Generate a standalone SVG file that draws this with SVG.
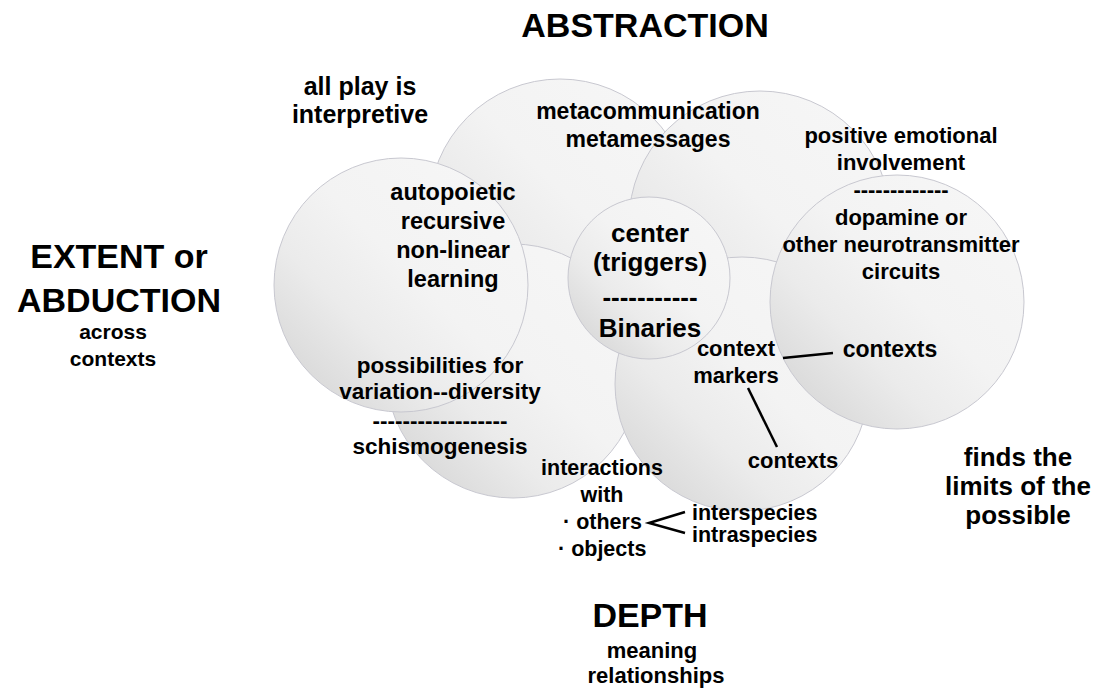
<svg xmlns="http://www.w3.org/2000/svg" width="1096" height="692" viewBox="0 0 1096 692">
<defs>
<linearGradient id="g" x1="0.1" y1="0.9" x2="0.9" y2="0.1">
<stop offset="0" stop-color="#d8d8d8"/>
<stop offset="0.3" stop-color="#ebebeb"/>
<stop offset="0.55" stop-color="#f3f3f3"/>
<stop offset="1" stop-color="#f6f6f6"/>
</linearGradient>
<style>
.c{fill:url(#g);stroke:#c8c8d0;stroke-width:1}
text{font-family:"Liberation Sans",Arial,sans-serif;font-weight:bold;fill:#000;text-anchor:middle}
.t{font-size:34px}
.s{text-anchor:start}
.ln{stroke:#000;stroke-width:2.5;fill:none;stroke-linecap:butt}
</style>
</defs>
<rect width="1096" height="692" fill="#fff"/>
<g id="circle-top"><circle class="c" cx="560" cy="210" r="131"/></g>
<g id="circle-topright"><circle class="c" cx="760" cy="222" r="131"/></g>
<g id="circle-botleft"><circle class="c" cx="513" cy="371" r="127"/></g>
<g id="circle-left"><circle class="c" cx="401" cy="285" r="127"/></g>
<g id="circle-botright"><circle class="c" cx="742" cy="384" r="127"/></g>
<g id="circle-right"><circle class="c" cx="897" cy="302" r="127"/></g>
<g id="circle-center"><circle class="c" cx="649" cy="278" r="81"/></g>

<g id="title-abstraction"><text class="t" x="645" y="37">ABSTRACTION</text></g>
<g id="title-extent">
<text class="t" x="119" y="268">EXTENT or</text>
<text class="t" x="119" y="312">ABDUCTION</text>
<text x="113" y="339" font-size="21">across</text>
<text x="113" y="366" font-size="21">contexts</text>
</g>
<g id="title-depth">
<text class="t" x="650" y="627">DEPTH</text>
<text x="652" y="658" font-size="22">meaning</text>
<text x="656" y="683" font-size="22">relationships</text>
</g>
<g id="label-finds">
<text x="1018" y="466" font-size="26">finds the</text>
<text x="1018" y="495" font-size="26">limits of the</text>
<text x="1018" y="524" font-size="26">possible</text>
</g>
<g id="label-allplay">
<text x="360" y="95" font-size="25">all play is</text>
<text x="360" y="123" font-size="25">interpretive</text>
</g>
<g id="label-meta">
<text x="648" y="119" font-size="23">metacommunication</text>
<text x="648" y="147" font-size="23">metamessages</text>
</g>
<g id="label-positive">
<text x="901" y="143" font-size="22">positive emotional</text>
<text x="901" y="170" font-size="22">involvement</text>
<text x="901" y="197" font-size="22">-------------</text>
<text x="901" y="225" font-size="22">dopamine or</text>
<text x="901" y="252" font-size="22">other neurotransmitter</text>
<text x="901" y="279" font-size="22">circuits</text>
</g>
<g id="label-autopoietic">
<text x="453" y="200" font-size="23.5">autopoietic</text>
<text x="453" y="229" font-size="23.5">recursive</text>
<text x="453" y="258" font-size="23.5">non-linear</text>
<text x="453" y="287" font-size="23.5">learning</text>
</g>
<g id="label-center">
<text x="650" y="242" font-size="26">center</text>
<text x="650" y="271" font-size="26">(triggers)</text>
<text x="650" y="306" font-size="26">-----------</text>
<text x="650" y="337" font-size="26">Binaries</text>
</g>
<g id="label-possibilities">
<text x="440" y="373" font-size="22.5">possibilities for</text>
<text x="440" y="399" font-size="22.5">variation--diversity</text>
<text x="440" y="428" font-size="22.5">------------------</text>
<text x="440" y="454" font-size="22.5">schismogenesis</text>
</g>
<g id="label-context-markers">
<text x="736" y="356" font-size="22">context</text>
<text x="736" y="383" font-size="22">markers</text>
</g>
<g id="label-contexts-right"><text x="890" y="357" font-size="23">contexts</text></g>
<g id="label-contexts-bottom"><text x="793" y="468" font-size="22">contexts</text></g>
<g id="label-interactions">
<text x="602" y="475" font-size="21.5">interactions</text>
<text x="602" y="502" font-size="21.5">with</text>
<text class="s" x="563" y="529" font-size="21.5">· others</text>
<text class="s" x="558" y="556" font-size="21.5">· objects</text>
</g>
<g id="label-species">
<text class="s" x="692" y="520" font-size="21.5">interspecies</text>
<text class="s" x="692" y="542" font-size="21.5">intraspecies</text>
</g>
<g id="connectors">
<line class="ln" x1="783" y1="358" x2="833" y2="353"/>
<line class="ln" x1="748" y1="388" x2="777" y2="447"/>
<polyline class="ln" points="685,512 649,523 685,533"/>
</g>
</svg>
